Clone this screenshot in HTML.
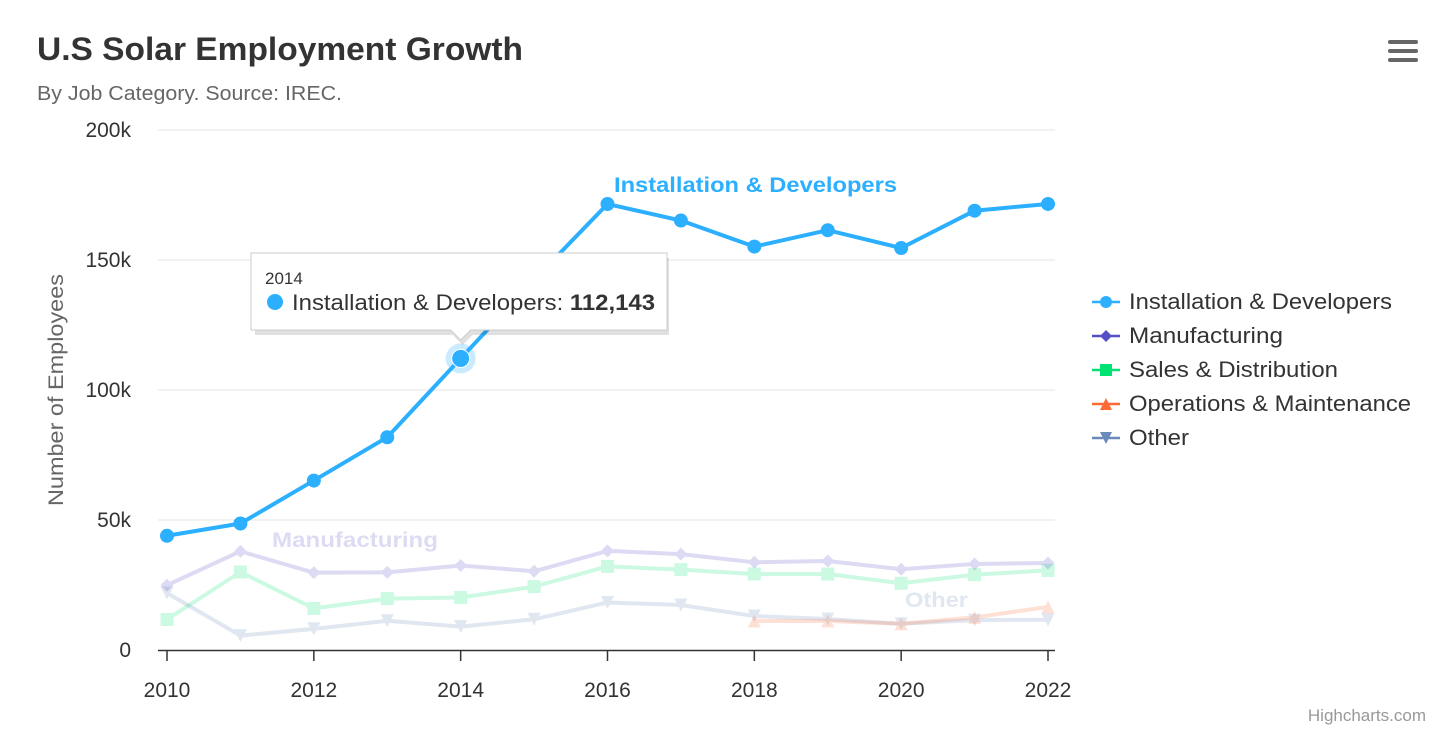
<!DOCTYPE html>
<html><head><meta charset="utf-8">
<style>
html,body{margin:0;padding:0;background:#fff;width:1456px;height:732px;overflow:hidden;font-family:"Liberation Sans",sans-serif;}
svg text{font-family:"Liberation Sans",sans-serif;}
</style></head>
<body>
<svg id="chart" width="1456" height="732" xmlns="http://www.w3.org/2000/svg">
<text x="37" y="60" font-size="32" font-weight="bold" fill="#333" textLength="486" lengthAdjust="spacingAndGlyphs">U.S Solar Employment Growth</text>
<text x="37" y="100" font-size="20" fill="#666" textLength="305" lengthAdjust="spacingAndGlyphs">By Job Category. Source: IREC.</text>
<g>
<rect x="1388" y="40" width="30" height="4" rx="2" fill="#666"/><rect x="1388" y="49" width="30" height="4" rx="2" fill="#666"/><rect x="1388" y="58" width="30" height="4" rx="2" fill="#666"/>
</g>
<text transform="translate(63,390) rotate(-90)" text-anchor="middle" font-size="21" fill="#666" textLength="232" lengthAdjust="spacingAndGlyphs">Number of Employees</text>
<g id="grid"></g><g id="series"></g><g id="legend"></g>
<text x="1426" y="721" text-anchor="end" font-size="17" fill="#999">Highcharts.com</text>
</svg>
<script>
const years=[2010,2011,2012,2013,2014,2015,2016,2017,2018,2019,2020,2021,2022];
const xTicks=[2010,2012,2014,2016,2018,2020,2022];
const yTicks=[0,50000,100000,150000,200000];
const yTickLabels=['0','50k','100k','150k','200k'];
const seriesNames=['Installation & Developers','Manufacturing','Sales & Distribution','Operations & Maintenance','Other'];
const installation=[43934,48656,65165,81827,112143,142383,171533,165174,155157,161454,154610,168960,171558];
const manufacturing=[24916,37941,29742,29851,32490,30282,38121,36885,33726,34243,31050,33099,33473];
const sales=[11744,30000,16005,19771,20185,24377,32147,30912,29243,29213,25663,28978,30618];
const operations=[null,null,null,null,null,null,null,null,11164,11218,10077,12530,16585];
const other=[21908,5548,8105,11248,8989,11816,18274,17300,13053,11906,10073,11471,11648];
const allData=[installation,manufacturing,sales,operations,other];
const colors=['#2caffe','#544fc5','#00e272','#fe6a35','#6b8abc'];
const symbols=['circle','diamond','square','triangle','triangle-down'];
const legendWidths=[263,154,209,282,60];
const NS='http://www.w3.org/2000/svg';
const X=y=>167+(y-2010)*(1048-167)/12;
const Y=v=>650-v*(520/200000);
function mk(tag,attrs,parent){const e=document.createElementNS(NS,tag);for(const k in attrs)e.setAttribute(k,attrs[k]);parent.appendChild(e);return e;}
const grid=document.getElementById('grid');
yTicks.forEach((t,i)=>{
 if(t>0){const l=mk('line',{x1:158,x2:1055,y1:Y(t),y2:Y(t),stroke:'#e6e6e6','stroke-width':1},grid);
 
 }
 const tx=mk('text',{x:131,y:Y(t)+7,'text-anchor':'end','font-size':21,fill:'#333'},grid);tx.textContent=yTickLabels[i];
 
 
});
const ax=mk('line',{x1:158,x2:1055,y1:650.5,y2:650.5,stroke:'#333','stroke-width':1.5},grid);


xTicks.forEach(t=>{
 const tk=mk('line',{x1:X(t),x2:X(t),y1:650,y2:661,stroke:'#333','stroke-width':1.5},grid);
 
 
 const tx=mk('text',{x:X(t),y:697,'text-anchor':'middle','font-size':21,fill:'#333'},grid);tx.textContent=t;
 
 
});
function sym(type,cx,cy,r,color,parent){
 if(type==='circle')return mk('circle',{cx,cy,r,fill:color},parent);
 if(type==='square')return mk('rect',{x:cx-r,y:cy-r,width:2*r,height:2*r,fill:color},parent);
 let pts;
 if(type==='diamond')pts=[[cx,cy-r],[cx+r,cy],[cx,cy+r],[cx-r,cy]];
 if(type==='triangle')pts=[[cx,cy-r],[cx+r,cy+r],[cx-r,cy+r]];
 if(type==='triangle-down')pts=[[cx-r,cy-r],[cx+r,cy-r],[cx,cy+r]];
 return mk('polygon',{points:pts.map(p=>p.join(',')).join(' '),fill:color},parent);
}
const sg=document.getElementById('series');
[4,3,2,1,0].forEach(si=>{
 const g=mk('g',{opacity:si===0?1:0.2},sg);
 
 
 const d=allData[si];let path='';
 d.forEach((v,i)=>{if(v==null)return;path+=(path===''?'M':'L')+X(years[i])+','+Y(v);});
 mk('path',{d:path,fill:'none',stroke:colors[si],'stroke-width':4,'stroke-linejoin':'round'},g);
 d.forEach((v,i)=>{if(v==null)return;
  const p=sym(symbols[si],X(years[i]),Y(v),si===0?7:6.5,colors[si],g);
  
  
 });
});
function label(txt,x,y,c,op,name,w){const t=mk('text',{x,y,'font-size':21,'font-weight':'bold',fill:c,opacity:op,textLength:w,lengthAdjust:'spacingAndGlyphs'},sg);t.textContent=txt;
 
 }
label('Installation & Developers',614,192,'#2caffe',1,'series-label-installation',283);
label('Manufacturing',272,547,'#544fc5',0.2,'series-label-manufacturing',166);
label('Other',905,607,'#6b8abc',0.2,'series-label-other',63);
const hx=X(2014),hy=Y(installation[4]);
mk('circle',{cx:hx,cy:hy,r:15,fill:'#2caffe',opacity:0.25},sg);
mk('circle',{cx:hx,cy:hy,r:9,fill:'#2caffe',stroke:'#fff','stroke-width':1},sg);
const tt=mk('g',{},sg);


mk('path',{d:`M253,255 H667 V332 H${hx+10} L${hx},342 L${hx-10},332 H253 Z`,fill:'#000',opacity:0.12,transform:'translate(2,3)'},tt);
mk('path',{d:`M251,253 H667 V330 H${hx+10} L${hx},340 L${hx-10},330 H251 Z`,fill:'#fff',stroke:'#ccc','stroke-width':1},tt);
const t1=mk('text',{x:265,y:284,'font-size':17,fill:'#333'},tt);t1.textContent='2014';
mk('circle',{cx:275,cy:302,r:8,fill:'#2caffe'},tt);
const t2=mk('text',{x:292,y:310,'font-size':22,fill:'#333',textLength:363,lengthAdjust:'spacingAndGlyphs'},tt);
t2.innerHTML='Installation &amp; Developers: <tspan font-weight="bold">'+installation[4].toLocaleString('en-US')+'</tspan>';
const lg=document.getElementById('legend');
seriesNames.forEach((n,i)=>{
 const g=mk('g',{},lg);
 
 
 const cy=302+i*34;
 mk('line',{x1:1092,x2:1120,y1:cy,y2:cy,stroke:colors[i],'stroke-width':2.5},g);
 sym(symbols[i],1106,cy,6,colors[i],g);
 const t=mk('text',{x:1129,y:cy+7,'font-size':22,fill:'#333',textLength:legendWidths[i],lengthAdjust:'spacingAndGlyphs'},g);t.textContent=n;
});
</script>
</body></html>
